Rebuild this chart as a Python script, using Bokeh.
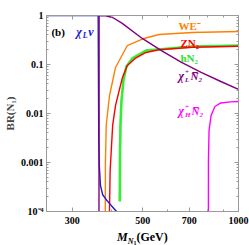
from bokeh.plotting import figure
from bokeh.models import LogAxis, FixedTicker, Label, Range1d, Div
from bokeh.layouts import column
from bokeh.embed import file_html
from bokeh.resources import INLINE

# ---- data ----
blue_x = [250, 362, 363.5, 365, 368, 374, 385, 399, 413.5, 420]
blue_y = [1, 1, 0.003, 8.7e-4, 3.4e-4, 2.2e-4, 1.7e-4, 1.3e-4, 1.0e-4, 8.6e-5]

purple_x = [364, 364.5, 382, 402, 431, 498, 574, 662, 763, 880, 1000]
purple_y = [1e-5, 1, 0.99, 0.91, 0.69, 0.34, 0.19, 0.11, 0.069, 0.045, 0.031]

orange_x = [380.8, 381.5, 383.7, 393, 410.5, 447, 498, 562, 716, 1000]
orange_y = [1e-5, 1e-3, 0.0057, 0.0233, 0.087, 0.244, 0.331, 0.41, 0.45, 0.47]

red_x = [390.5, 394.8, 402, 410.5, 421.5, 431.5, 447, 473, 512, 562, 716, 1000]
red_y = [1e-5, 6.9e-4, 0.0057, 0.0146, 0.0295, 0.054, 0.095, 0.133, 0.176, 0.2, 0.225, 0.236]

green_x = [423.2, 423.8, 425.4, 428.5, 434.6, 444, 463.5, 512, 716, 1000]
green_y = [1.6e-4, 0.0011, 0.0057, 0.018, 0.047, 0.091, 0.133, 0.193, 0.233, 0.244]

magenta_x = [804, 804.4, 808, 820, 843, 880, 945, 1000]
magenta_y = [1e-5, 0.0011, 0.0045, 0.0091, 0.0139, 0.0164, 0.0173, 0.0176]

x_ticks = [300, 500, 700, 1000]
x_tick_labels = ["300", "500", "700", "1000"]
x_minor = [400, 600, 800, 900]
y_ticks = [1e-4, 1e-3, 1e-2, 1e-1, 1]
y_tick_labels = ["10\u207b\u2074", "0.001", "0.01", "0.1", "1"]
y_minor = [2e-4, 3e-4, 4e-4, 5e-4, 6e-4, 7e-4, 8e-4, 9e-4,
           2e-3, 3e-3, 4e-3, 5e-3, 6e-3, 7e-3, 8e-3, 9e-3,
           2e-2, 3e-2, 4e-2, 5e-2, 6e-2, 7e-2, 8e-2, 9e-2,
           0.2, 0.3, 0.4, 0.5, 0.6, 0.7, 0.8, 0.9]

SERIF = "Liberation Serif"
FRAME = "#9a9a9a"

p = figure(width=249, height=229, x_axis_type="log", y_axis_type="log",
           x_range=Range1d(249, 1000), y_range=Range1d(1e-4, 1),
           output_backend="svg", toolbar_location=None,
           min_border_left=43, min_border_right=11, min_border_top=15, min_border_bottom=18)
p.xgrid.visible = False
p.ygrid.visible = False
p.outline_line_color = FRAME
p.background_fill_color = "white"
p.border_fill_color = "white"

xt = FixedTicker(ticks=x_ticks, minor_ticks=x_minor)
yt = FixedTicker(ticks=y_ticks, minor_ticks=y_minor)


def style(ax, labels=True):
    ax.axis_line_color = FRAME
    ax.major_tick_line_color = FRAME
    ax.minor_tick_line_color = FRAME
    ax.major_tick_in = 4
    ax.major_tick_out = 0
    ax.minor_tick_in = 2
    ax.minor_tick_out = 0
    ax.major_label_text_font = SERIF
    ax.major_label_text_font_style = "bold"
    ax.major_label_text_font_size = "10px" if labels else "0px"
    ax.major_label_text_color = "black"
    if not labels:
        ax.major_label_text_alpha = 0
        ax.major_label_standoff = 0


xa = p.xaxis[0]
xa.ticker = xt
xa.major_label_overrides = dict(zip(x_ticks, x_tick_labels))
style(xa)
xa.major_label_standoff = 5

ya = p.yaxis[0]
ya.ticker = yt
ya.major_label_overrides = dict(zip(y_ticks, y_tick_labels))
style(ya)
ya.major_label_standoff = 3
ya.axis_label = "BR(N\u2081)"
ya.axis_label_text_font = SERIF
ya.axis_label_text_font_style = "bold"
ya.axis_label_text_font_size = "11px"
ya.axis_label_standoff = 2

top = LogAxis(ticker=xt)
style(top, labels=False)
p.add_layout(top, "above")
right = LogAxis(ticker=yt)
style(right, labels=False)
p.add_layout(right, "right")

p.line(green_x, green_y, line_color="#33ee33", line_width=2.6)
p.line(red_x, red_y, line_color="#ff0000", line_width=1.4)
p.line(orange_x, orange_y, line_color="#ff8000", line_width=1.4)
p.line(blue_x, blue_y, line_color="#1a1ad0", line_width=1.4)
p.line(purple_x, purple_y, line_color="#800080", line_width=1.4)
p.line(magenta_x, magenta_y, line_color="#ff00ff", line_width=1.4)


def lab(x, y, text, color, size="11px", style_="bold", dx=0, dy=0):
    p.add_layout(Label(x=x, y=y, text=text, text_color=color,
                       text_font=SERIF, text_font_style=style_, text_font_size=size,
                       text_baseline="middle", x_offset=dx, y_offset=dy))


lab(258, 0.47, "(b)", "black")
lab(309, 0.46, "\u03c7", "#1a1ad0", "12px", "bold italic")
lab(309, 0.46, "L", "#1a1ad0", "8px", "bold italic", dx=6.5, dy=-3)
lab(309, 0.46, "\u03bd", "#1a1ad0", "12px", "bold italic", dx=12)
lab(648, 0.6, "WE\u207b", "#ff8000")
lab(657, 0.275, "ZN\u2082", "#ff0000")
lab(657, 0.136, "hN\u2082", "#33dd33")
lab(648, 0.057, "\u03c7", "#800080", "12px", "bold italic")
lab(648, 0.057, "+", "#800080", "7px", "bold", dx=6.5, dy=4)
lab(648, 0.057, "L", "#800080", "7px", "bold italic", dx=6.5, dy=-4)
lab(648, 0.057, "N\u0305\u2082", "#800080", "11px", "bold italic", dx=12)
lab(648, 0.011, "\u03c7", "#ff00ff", "12px", "bold italic")
lab(648, 0.011, "+", "#ff00ff", "7px", "bold", dx=6.5, dy=4)
lab(648, 0.011, "H", "#ff00ff", "7px", "bold italic", dx=6.5, dy=-4)
lab(648, 0.011, "N\u0305\u2082", "#ff00ff", "11px", "bold italic", dx=13)

# x axis title with nested subscripts, as real HTML text under the plot
xtitle = Div(
    text=('<div style="margin-left:117px;font-family:\'Liberation Serif\';font-weight:bold;'
          'font-size:12px;line-height:14px;white-space:nowrap;color:black">'
          '<i>M</i><span style="font-size:8px;position:relative;top:3px"><i>N</i>'
          '<span style="font-size:6px;position:relative;top:1px">1</span></span>(GeV)</div>'),
    width=249, height=16, margin=(0, 0, 0, 0))

layout = column(p, xtitle, spacing=0)
open("out.html", "w").write(file_html(layout, INLINE))
